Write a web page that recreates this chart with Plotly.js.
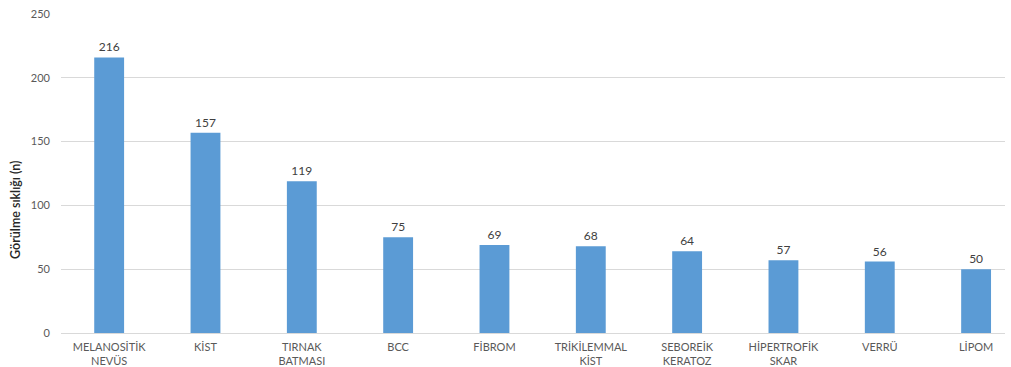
<!DOCTYPE html>
<html>
<head>
<meta charset="utf-8">
<script src="https://cdn.plot.ly/plotly-3.0.1.min.js"></script>
<style>html,body{margin:0;padding:0;background:#fff}#chart{width:1011px;height:367px}</style>
</head>
<body>
<div id="chart"></div>
<script>
// Lesion types and how often each was seen
const categories = ["MELANOSİTİK<br>NEVÜS", "KİST", "TIRNAK<br>BATMASI", "BCC", "FİBROM",
  "TRİKİLEMMAL<br>KİST", "SEBOREİK<br>KERATOZ", "HİPERTROFİK<br>SKAR", "VERRÜ", "LİPOM"];
const counts = [216, 157, 119, 75, 69, 68, 64, 57, 56, 50];
const yTicks = [0, 50, 100, 150, 200, 250];
const yTitle = "Görülme sıklığı (n)";

const font = "Lato, 'Open Sans', sans-serif";

Plotly.newPlot("chart", [{
  type: "bar",
  x: categories,
  y: counts,
  marker: {color: "#5B9BD5"},
  width: 0.31,
  text: counts.map(String),
  textposition: "outside",
  cliponaxis: false,
  textfont: {family: font, size: 12, color: "#404040"},
  hoverinfo: "x+y"
}], {
  width: 1011, height: 367,
  margin: {l: 61, r: 6, t: 14, b: 34},
  paper_bgcolor: "#fff", plot_bgcolor: "#fff",
  showlegend: false,
  xaxis: {
    type: "category",
    range: [-0.5, 9.3],
    showgrid: false, zeroline: false, showline: false,
    ticks: "", ticklabelstandoff: 6,
    tickfont: {family: font, size: 11, color: "#595959"}
  },
  yaxis: {
    range: [0, 250],
    tickvals: yTicks,
    showgrid: true, gridcolor: "#D9D9D9", gridwidth: 1,
    zeroline: true, zerolinecolor: "#D9D9D9", zerolinewidth: 1,
    showline: false, ticks: "", ticklabelstandoff: 10,
    tickfont: {family: font, size: 11, color: "#595959"}
  },
  // vertical axis title, set a little below the middle of the axis
  annotations: [{
    text: yTitle, textangle: -90,
    xref: "paper", yref: "paper", x: -0.049, y: 0.385,
    xanchor: "center", yanchor: "middle", showarrow: false,
    font: {family: font, size: 12.5, color: "#262626", weight: 600}
  }]
}, {displayModeBar: false, staticPlot: true});
</script>
</body>
</html>
